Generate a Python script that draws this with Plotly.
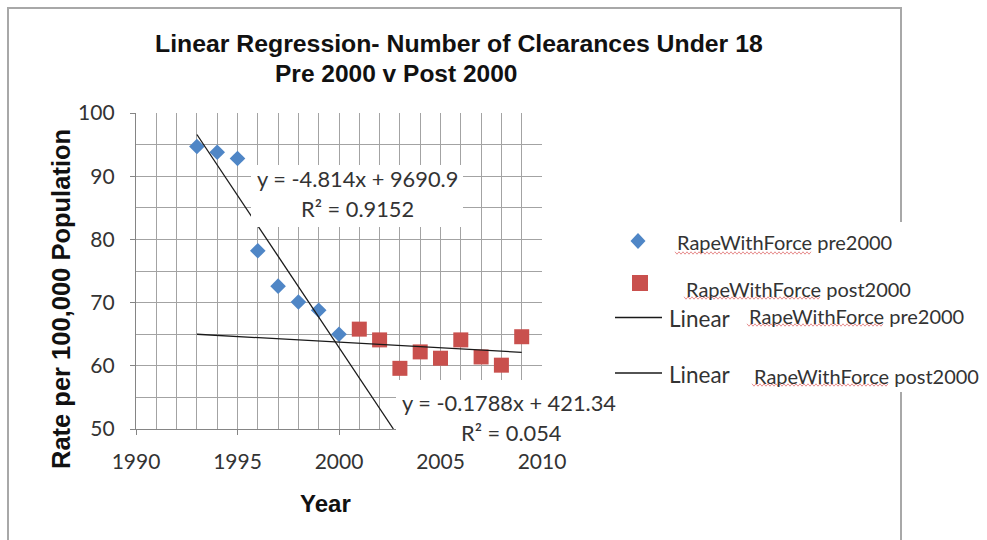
import numpy as np
import plotly.graph_objects as go

# ---- data -------------------------------------------------------------
pre_years = [1993, 1994, 1995, 1996, 1997, 1998, 1999, 2000]
pre_rate = [94.7, 93.8, 92.8, 78.2, 72.6, 70.1, 68.8, 65.0]

post_years = [2001, 2002, 2003, 2004, 2005, 2006, 2007, 2008, 2009]
post_rate = [65.8, 64.1, 59.6, 62.2, 61.2, 64.1, 61.4, 60.1, 64.6]

# fitted trendlines (slope, intercept, r squared)
pre_fit = (-4.814, 9690.9, 0.9152)
post_fit = (-0.1788, 421.34, 0.054)

x_ticks = [1990, 1995, 2000, 2005, 2010]
y_ticks = [50, 60, 70, 80, 90, 100]

series_names = ["RapeWithForce pre2000", "RapeWithForce post2000"]

# ---- page geometry (pixels) --------------------------------------------
W, H = 987, 540
PL, PR, PT, PB = 136, 542, 113, 429   # plot area edges


def px(x):
    return (x - PL) / (PR - PL)


def py(y):
    return (PB - y) / (PB - PT)


BLUE = "#4f86c6"
RED = "#c9504d"
TXT = "#333333"
GRID = "#a3a3a3"
AXIS = "#858585"
BODY_FONT = "Lato"
HEAD_FONT = "Liberation Sans"

fig = go.Figure()

fig.add_trace(go.Scatter(
    x=pre_years, y=pre_rate, mode="markers", name=series_names[0],
    marker=dict(symbol="diamond", size=12, color=BLUE, line=dict(width=0)),
    showlegend=False, cliponaxis=False))
fig.add_trace(go.Scatter(
    x=post_years, y=post_rate, mode="markers", name=series_names[1],
    marker=dict(symbol="square", size=15, color=RED, line=dict(width=0)),
    showlegend=False, cliponaxis=False))

# trendlines: pre2000 forecast forward down to the axis floor,
# post2000 forecast backward to 1993
m1, b1, r1 = pre_fit
x_pre = np.array([pre_years[0], (b1 - y_ticks[0]) / -m1])
fig.add_trace(go.Scatter(x=x_pre, y=m1 * x_pre + b1, mode="lines",
                         line=dict(color="#1a1a1a", width=1.3),
                         showlegend=False, hoverinfo="skip"))
m2, b2, r2 = post_fit
x_post = np.array([pre_years[0], post_years[-1]])
fig.add_trace(go.Scatter(x=x_post, y=m2 * x_post + b2, mode="lines",
                         line=dict(color="#1a1a1a", width=1.3),
                         showlegend=False, hoverinfo="skip"))

shapes = []
annotations = []

# chart frame
shapes.append(dict(type="rect", xref="paper", yref="paper", layer="below",
                   x0=px(8), x1=px(901), y0=py(8), y1=py(560),
                   line=dict(color="#a8a8a8", width=2), fillcolor="white"))
# legend background (hides the frame edge behind it)
shapes.append(dict(type="rect", xref="paper", yref="paper", layer="below",
                   x0=px(605), x1=px(987), y0=py(222), y1=py(392),
                   line=dict(width=0), fillcolor="white"))

# white boxes behind the trendline equations
for (x0, y0, x1, y1) in [(251, 165, 463, 227), (396, 380, 625, 447)]:
    shapes.append(dict(type="rect", xref="paper", yref="paper", layer="above",
                       x0=px(x0), x1=px(x1), y0=py(y0), y1=py(y1),
                       line=dict(width=0), fillcolor="white"))


def label(text, x, y, size, color=TXT, family=BODY_FONT, weight="normal",
          xanchor="center", textangle=0):
    annotations.append(dict(
        text=text, x=px(x), y=py(y), xref="paper", yref="paper",
        xanchor=xanchor, yanchor="middle", showarrow=False,
        textangle=textangle,
        font=dict(family=family, size=size, color=color, weight=weight)))


# equations
label(f"y = {m1}x + {b1}", 357, 178, 21.8)
label(f"R² = {r1}", 357, 208, 21.8)
label(f"y = {m2}x + {b2}", 509, 402, 21.8)
label(f"R² = {r2}", 511, 432, 21.8)

# titles
label("Linear Regression- Number of Clearances Under 18", 459, 44, 24.8,
      color="#111111", family=HEAD_FONT, weight="bold")
label("Pre 2000 v Post 2000", 396, 73, 24.5,
      color="#111111", family=HEAD_FONT, weight="bold")
label("Year", 325, 503, 24, color="#111111", family=HEAD_FONT, weight="bold")
label("Rate per 100,000 Population", 61, 299, 25.5, color="#111111",
      family=HEAD_FONT, weight="bold", textangle=-90)

# legend swatches
cx, cy = 638, 241
shapes.append(dict(
    type="path", xref="paper", yref="paper", fillcolor=BLUE, line=dict(width=0),
    path=(f"M {px(cx)} {py(cy - 8)} L {px(cx + 7.5)} {py(cy)} "
          f"L {px(cx)} {py(cy + 8)} L {px(cx - 7.5)} {py(cy)} Z")))
shapes.append(dict(type="rect", xref="paper", yref="paper", fillcolor=RED,
                   line=dict(width=0), x0=px(632), x1=px(648),
                   y0=py(275), y1=py(291)))
for ly in (317.5, 373):
    shapes.append(dict(type="line", xref="paper", yref="paper",
                       x0=px(615), x1=px(662), y0=py(ly), y1=py(ly),
                       line=dict(color="#1a1a1a", width=1.3)))

label(series_names[0], 675, 242, 20, xanchor="left")
label(series_names[1], 684, 289, 20, xanchor="left")
label("Linear", 667, 318, 22.5, xanchor="left")
label(series_names[0], 747, 316, 20, xanchor="left")
label("Linear", 667, 374, 22.5, xanchor="left")
label(series_names[1], 752, 376, 20, xanchor="left")


# spell-check squiggles under the series names in the legend
def squiggle(x0, x1, y, step=2.0, amp=1.2):
    xs = np.arange(x0, x1, step)
    pts = [f"{px(x)} {py(y + (amp if i % 2 else -amp))}"
           for i, x in enumerate(xs)]
    return "M " + " L ".join(pts)


for (x0, x1, y) in [(675, 813, 253), (684, 822, 298),
                    (747, 884, 325), (752, 890, 385)]:
    shapes.append(dict(type="path", xref="paper", yref="paper",
                       path=squiggle(x0, x1, y),
                       line=dict(color="#e07070", width=0.8)))

fig.update_layout(
    width=W, height=H, autosize=False,
    margin=dict(l=PL, r=W - PR, t=PT, b=H - PB, pad=0),
    paper_bgcolor="white", plot_bgcolor="rgba(0,0,0,0)",
    shapes=shapes, annotations=annotations, showlegend=False,
    xaxis=dict(range=[1990, 2010], tickvals=x_ticks, ticktext=[str(v) for v in x_ticks],
               showgrid=True, gridcolor=GRID, gridwidth=1,
               minor=dict(dtick=1, showgrid=True, gridcolor=GRID, gridwidth=1),
               showline=True, linecolor=AXIS, linewidth=1.3,
               ticks="outside", ticklen=5, tickcolor=AXIS,
               ticklabelstandoff=9, zeroline=False,
               tickfont=dict(family=BODY_FONT, size=21, color=TXT)),
    yaxis=dict(range=[50, 100], tickvals=y_ticks, ticktext=[str(v) for v in y_ticks],
               showgrid=True, gridcolor=GRID, gridwidth=1,
               minor=dict(dtick=5, showgrid=True, gridcolor=GRID, gridwidth=1),
               showline=True, linecolor=AXIS, linewidth=1.3,
               ticks="outside", ticklen=5, tickcolor=AXIS,
               ticklabelstandoff=11, zeroline=False,
               tickfont=dict(family=BODY_FONT, size=21, color=TXT)),
)

fig.write_html("out.html")
